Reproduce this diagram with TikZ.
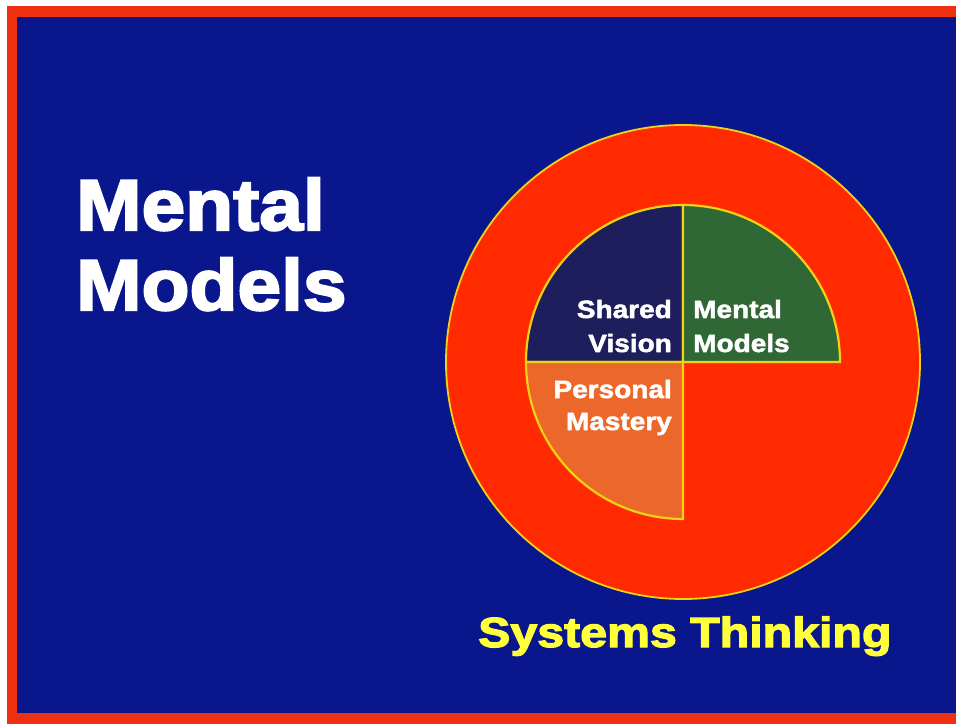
\documentclass[tikz,border=0pt]{standalone}
\usepackage{fontspec}
\setmainfont{Liberation Sans}
\newfontfamily\heavy[FakeStretch=1.09,FakeBold=3]{Liberation Sans}
\newfontfamily\heavysys[FakeStretch=1.15,FakeBold=3]{Liberation Sans}
\newfontfamily\heavyin[FakeStretch=1.12,FakeBold=2]{Liberation Sans}
\definecolor{bgblue}{RGB}{10,22,140}
\definecolor{frame}{RGB}{238,48,16}
\definecolor{ringred}{RGB}{255,42,0}
\definecolor{navyq}{RGB}{30,30,92}
\definecolor{greenq}{RGB}{47,104,52}
\definecolor{orangeq}{RGB}{236,104,42}
\definecolor{edgey}{RGB}{240,210,20}
\definecolor{texty}{RGB}{255,255,60}
\tikzset{
  quad/.style={draw=edgey, line width=2.2pt, line join=miter},
  bigtitle/.style={text=white, inner sep=0pt, anchor=base west, font=\heavy\bfseries\fontsize{72}{80}\selectfont},
  qtext/.style={text=white, inner sep=0pt, font=\heavyin\bfseries\fontsize{25}{30}\selectfont},
  systext/.style={text=texty, inner sep=0pt, anchor=base west, font=\heavysys\bfseries\fontsize{42}{48}\selectfont}
}
\begin{document}
\begin{tikzpicture}[x=1pt,y=1pt]
\useasboundingbox (0,0) rectangle (956,724);
% frame
\fill[white] (0,0) rectangle (956,724);
\fill[frame] (7,0) rectangle (956,718);
\fill[bgblue] (17,11) rectangle (956,707);
% outer circle
\coordinate (c) at (683,362);
\node[circle, fill=ringred, draw=edgey, line width=1.8pt, minimum size=474pt, inner sep=0pt] (outer) at (c) {};
% quadrants
\filldraw[quad, fill=navyq] (c) -- ++(0,157) arc[start angle=90, end angle=180, radius=157] -- cycle;
\filldraw[quad, fill=greenq] (c) -- ++(157,0) arc[start angle=0, end angle=90, radius=157] -- cycle;
\filldraw[quad, fill=orangeq] (c) -- ++(-157,0) arc[start angle=180, end angle=270, radius=157] -- cycle;
% quadrant texts
\node[qtext, anchor=base east] (sv1) at (672,406) {Shared};
\node[qtext, anchor=base east] (sv2) at (672,372) {Vision};
\node[qtext, anchor=base west] (mm1) at (693,406) {Mental};
\node[qtext, anchor=base west] (mm2) at (693,372) {Models};
\node[qtext, anchor=base east] (pm1) at (672,326) {Personal};
\node[qtext, anchor=base east] (pm2) at (672,294) {Mastery};
% titles
\node[bigtitle] (title1) at (76,494) {Mental};
\node[bigtitle] (title2) at (76,414) {Models};
\node[systext] (sys) at (478,77) {Systems Thinking};
\end{tikzpicture}
\end{document}
